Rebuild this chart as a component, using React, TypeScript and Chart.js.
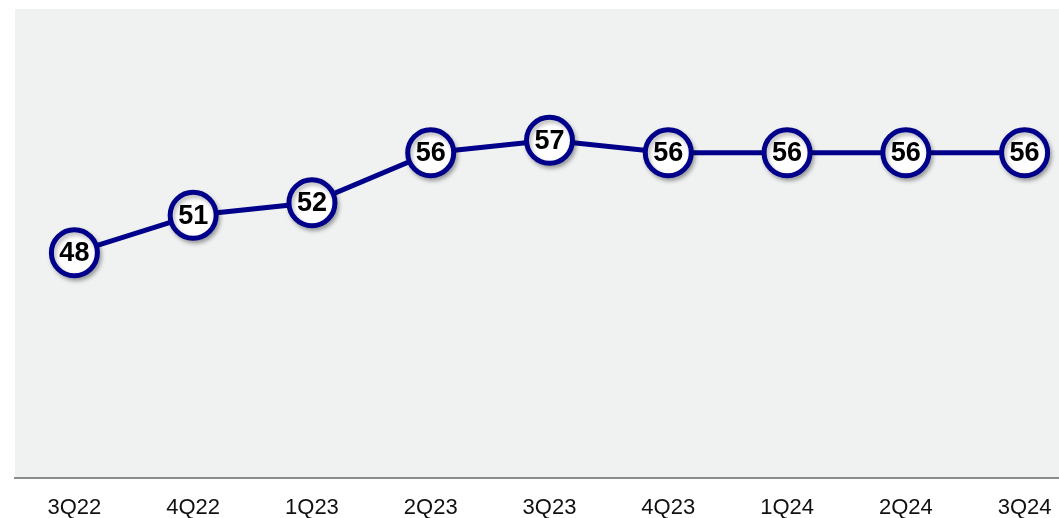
import React, { useEffect, useRef } from "react";
import { Chart, registerables } from "chart.js";

Chart.register(...registerables);

const categories = ["3Q22", "4Q22", "1Q23", "2Q23", "3Q23", "4Q23", "1Q24", "2Q24", "3Q24"];
const values = [48, 51, 52, 56, 57, 56, 56, 56, 56];
const yMin = 30;
const yMax = 67.5;

const NAVY = "#00008B";
const FONT = 'Arial, "Liberation Sans", sans-serif';

const bgPlugin = {
  id: "plotBg",
  beforeDraw(chart: any) {
    const { ctx, chartArea } = chart;
    ctx.save();
    ctx.fillStyle = "#F0F1F1";
    ctx.fillRect(chartArea.left, chartArea.top, chartArea.right - chartArea.left, chartArea.bottom - chartArea.top);
    ctx.restore();
  },
};

const shadowPlugin = {
  id: "markerShadow",
  beforeDatasetDraw(chart: any, args: any) {
    if (args.index !== 1) return;
    const ctx = chart.ctx;
    ctx.save();
    ctx.shadowColor = "rgba(0,0,0,0.28)";
    ctx.shadowBlur = 4;
    ctx.shadowOffsetX = 2;
    ctx.shadowOffsetY = 3;
  },
  afterDatasetDraw(chart: any, args: any) {
    if (args.index !== 1) return;
    chart.ctx.restore();
  },
};

const labelPlugin = {
  id: "valueLabels",
  afterDatasetsDraw(chart: any) {
    const { ctx } = chart;
    const meta = chart.getDatasetMeta(1);
    ctx.save();
    ctx.font = `bold 27px ${FONT}`;
    ctx.fillStyle = "#000";
    ctx.textAlign = "center";
    ctx.textBaseline = "middle";
    meta.data.forEach((pt: any, i: number) => {
      ctx.fillText(String(values[i]), pt.x, pt.y + 1);
    });
    ctx.restore();
  },
};

export default function App() {
  const ref = useRef<HTMLCanvasElement>(null);
  useEffect(() => {
    if (!ref.current) return;
    const chart = new Chart(ref.current, {
      type: "line",
      data: {
        labels: categories,
        datasets: [
          {
            data: values,
            order: 1,
            borderColor: NAVY,
            borderWidth: 5,
            pointRadius: 0,
            pointHoverRadius: 0,
            tension: 0,
            fill: false,
          },
          {
            data: values,
            order: 0,
            showLine: false,
            pointRadius: 23,
            pointHoverRadius: 23,
            pointBorderWidth: 5,
            pointBorderColor: NAVY,
            pointBackgroundColor: "#FFFFFF",
            borderColor: NAVY,
            backgroundColor: "#FFFFFF",
          },
        ],
      },
      options: {
        responsive: false,
        animation: false,
        layout: { autoPadding: false, padding: { left: 15, right: 16, top: 9, bottom: 0 } },
        plugins: {
          legend: { display: false },
          tooltip: { enabled: false },
        },
        scales: {
          x: {
            offset: true,
            grid: { display: false, drawTicks: false },
            border: { display: true, color: "#8C8C8C", width: 2 },
            ticks: {
              padding: 17,
              color: "#111",
              font: { family: FONT, size: 22 },
              maxRotation: 0,
              autoSkip: false,
            },
          },
          y: {
            display: false,
            min: yMin,
            max: yMax,
          },
        },
      },
      plugins: [bgPlugin, shadowPlugin, labelPlugin],
    });
    return () => chart.destroy();
  }, []);
  return (
    <div style={{ position: "fixed", left: 0, top: 0, width: 1059, height: 518, overflow: "hidden", background: "#fff" }}>
      <canvas ref={ref} width={1100} height={538} style={{ display: "block" }} />
    </div>
  );
}
